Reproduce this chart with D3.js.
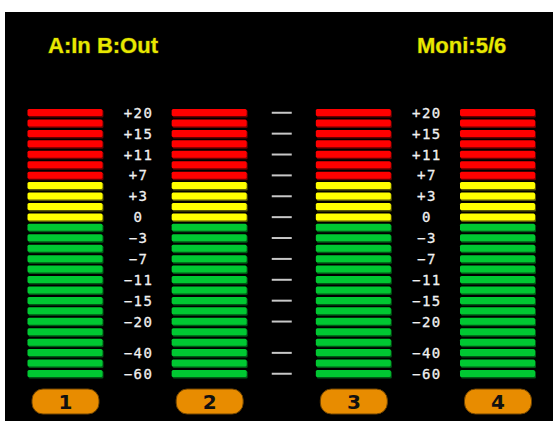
<!DOCTYPE html>
<meta charset="utf-8">
<html><head>
<style>
body { margin: 0; background: #fff; }
svg { display: block; }
.title {
  font-family: "Liberation Sans", Arial, sans-serif;
  font-weight: bold;
  font-size: 22px;
  fill: #e8e800;
  stroke: #3c3c00;
  stroke-width: 1.2px;
  paint-order: stroke;
}
.scale text {
  font-family: "DejaVu Sans Mono", monospace;
  font-size: 14px;
  letter-spacing: 1.5px;
  fill: #f0f0f0;
  stroke: #f0f0f0;
  stroke-width: 0.3px;
}
.ticks line {
  stroke: #c8c8c8;
  stroke-width: 2px;
}
.buttons rect {
  fill: #e88c00;
  stroke: #6e4300;
  stroke-width: 1px;
}
.buttons text {
  font-family: "DejaVu Sans", sans-serif;
  font-weight: bold;
  font-size: 20px;
  fill: #111;
}
</style>
</head>
<body>
<svg width="553" height="421"></svg>
<script src="https://d3js.org/d3.v7.min.js"></script>
<script>

// meter channels and their levels (number of lit segments, 26 = all)
var channels = ["1", "2", "3", "4"];
var levels = [26, 26, 26, 26];

// segment zones from top to bottom
var zones = ["red", "yellow", "green"];
var zoneCounts = [7, 4, 15];

// scale labels and the segment row they sit on
var scaleLabels = ["+20", "+15", "+11", "+7", "+3", "0", "\u22123", "\u22127", "\u221211", "\u221215", "\u221220", "\u221240", "\u221260"];
var labelRows = [0, 2, 4, 6, 8, 10, 12, 14, 16, 18, 20, 23, 25];

var headerLeft = "A:In B:Out";
var headerRight = "Moni:5/6";

var zoneFill = { red: "#ff0000", yellow: "#ffff00", green: "#00c832" };
var zoneShade = { red: "#6a0000", yellow: "#5c5c00", green: "#005a16" };

var svg = d3.select("svg"),
    width = +svg.attr("width"),
    height = +svg.attr("height");

svg.append("rect")
    .attr("x", 5)
    .attr("y", 12)
    .attr("width", width - 5)
    .attr("height", height - 12)
    .attr("fill", "#000");

// build segment list from zones
var segments = [];
zones.forEach(function(z, i) {
  for (var k = 0; k < zoneCounts[i]; k++) segments.push({ zone: z });
});
segments.forEach(function(d, i) { d.row = i; });

// columns: meter, scale, meter, ticks, meter, scale, meter
var columns = ["1", "s1", "2", "mid", "3", "s2", "4"];
var x = d3.scalePoint().domain(columns).range([65.5, 498]);
var y = d3.scaleBand().domain(d3.range(segments.length)).range([109, 377.5]).paddingInner(0.28);

var barW = 76;

svg.append("text")
    .attr("class", "title")
    .attr("x", 48)
    .attr("y", 53)
    .text(headerLeft);

svg.append("text")
    .attr("class", "title")
    .attr("x", 417)
    .attr("y", 53)
    .text(headerRight);

var meters = svg.append("g")
    .attr("class", "meters")
  .selectAll("g")
  .data(channels)
  .enter().append("g")
    .attr("transform", function(d) { return "translate(" + (x(d) - barW / 2) + ",0)"; });

var seg = meters.selectAll("g")
    .data(function(d, i) {
      return segments.map(function(s) {
        return { zone: s.zone, row: s.row, lit: s.row >= segments.length - levels[i] };
      });
    })
  .enter().append("g");

seg.append("rect")
    .attr("x", 1)
    .attr("y", function(d) { return y(d.row) + 1; })
    .attr("width", barW - 1)
    .attr("height", y.bandwidth())
    .attr("rx", 1.5)
    .attr("fill", function(d) { return zoneShade[d.zone]; });

seg.append("rect")
    .attr("x", 0)
    .attr("y", function(d) { return y(d.row); })
    .attr("width", barW - 1)
    .attr("height", y.bandwidth() - 0.5)
    .attr("rx", 1.5)
    .attr("fill", function(d) { return d.lit ? zoneFill[d.zone] : zoneShade[d.zone]; });

// scale labels left and right
["s1", "s2"].forEach(function(col) {
  svg.append("g")
      .attr("class", "scale")
    .selectAll("text")
    .data(scaleLabels)
    .enter().append("text")
      .attr("x", x(col) + 1)
      .attr("y", function(d, i) { return y(labelRows[i]) + y.bandwidth() / 2; })
      .attr("text-anchor", "middle")
      .attr("dominant-baseline", "central")
      .text(function(d) { return d; });
});

// middle tick dashes
svg.append("g")
    .attr("class", "ticks")
  .selectAll("line")
  .data(labelRows)
  .enter().append("line")
    .attr("x1", x("mid") - 10)
    .attr("x2", x("mid") + 10)
    .attr("y1", function(d) { return y(d) + y.bandwidth() / 2; })
    .attr("y2", function(d) { return y(d) + y.bandwidth() / 2; });

// channel buttons
var btn = svg.append("g")
    .attr("class", "buttons")
  .selectAll("g")
  .data(channels)
  .enter().append("g")
    .attr("transform", function(d) { return "translate(" + x(d) + ",401.5)"; });

btn.append("rect")
    .attr("x", -33.5)
    .attr("y", -12.5)
    .attr("width", 67)
    .attr("height", 25)
    .attr("rx", 11);

btn.append("text")
    .attr("text-anchor", "middle")
    .attr("dominant-baseline", "central")
    .attr("y", 0.5)
    .text(function(d) { return d; });

</script>
</body>
</html>
